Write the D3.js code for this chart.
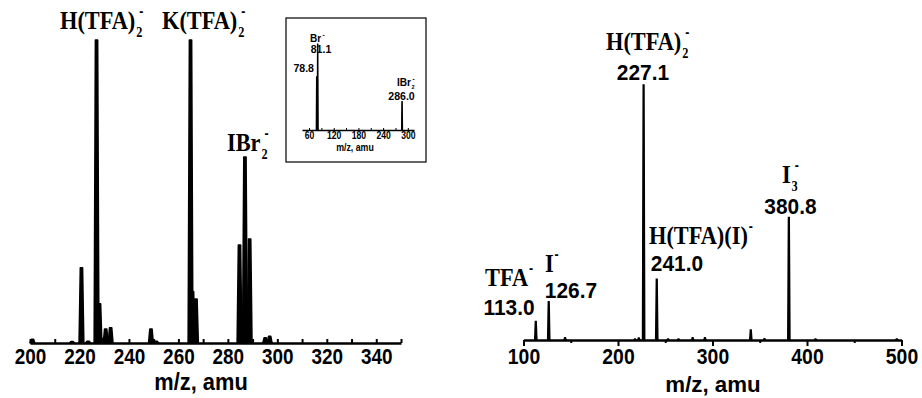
<!DOCTYPE html>
<html>
<head>
<meta charset="utf-8">
<script src="https://cdn.jsdelivr.net/npm/d3@7"></script>
<style>
  html, body { margin: 0; padding: 0; background: #fff; }
  svg { display: block; }
  .ax text { font-family: "Liberation Sans", Arial, sans-serif; font-weight: bold; fill: #000; }
  .ax path, .ax line { stroke: #000; }
</style>
</head>
<body>
<svg id="chart" width="922" height="398"></svg>
<script>
// ---- Left spectrum (m/z 200–350) ----
const leftMz        = [201.0, 217.0, 220.8, 223.5, 226.9, 228.1, 229.5, 230.6, 232.6, 248.9, 251.0, 264.9, 265.7, 267.1, 284.7, 286.9, 288.8, 295.1, 296.9];
const leftIntensity = [1.2,   0.5,   24.8,  0.6,   100,   12.9,  1.5,   4.6,   5.0,   4.6,   0.6,   100,   17.0,  14.5,  32.3,  61.4,  34.3,  1.7,   2.2];
const leftTicks = [200, 220, 240, 260, 280, 300, 320, 340];
const leftMinorTicks = [200, 210, 220, 230, 240, 250, 260, 270, 280, 290, 300, 310, 320, 330, 340, 350];

// ---- Inset spectrum (m/z 60–300) ----
const insetMz        = [78.8, 81.1, 286.0];
const insetIntensity = [62,   100,  33];
const insetTicks = [60, 120, 180, 240, 300];
const insetMinorTicks = [90, 150, 210, 270];

// ---- Right spectrum (m/z 100–500) ----
const rightMz        = [113.0, 126.7, 144.0, 218.0, 222.0, 227.1, 241.0, 253.0, 264.0, 279.0, 292.0, 340.5, 355.0, 380.8, 409.0, 495.0];
const rightIntensity = [7.2,   15.0,  0.9,   0.4,   0.8,   100,   23.8,  0.4,   0.4,   0.9,   0.9,   3.9,   0.5,   48.0,  0.4,   0.4];
const rightTicks = [100, 200, 300, 400, 500];
const rightMinorTicks = [150, 250, 350, 450];

const svg = d3.select("#chart");
const SERIF = '"Liberation Serif", "Times New Roman", serif';
const SANS = '"Liberation Sans", Arial, sans-serif';

// Ion label: main text with optional subscript and superscript charge
function ion(g, x, y, main, sub, sup, size, sx) {
  const grp = g.append("g").attr("transform", `translate(${x},${y}) scale(${sx},1)`);
  const t = grp.append("text").attr("x", 0).attr("y", 0)
    .attr("font-family", SERIF).attr("font-weight", "bold")
    .attr("font-size", size).text(main);
  const w = t.node().getComputedTextLength();
  const small = size * 0.55;
  if (sub) grp.append("text").attr("x", w + 1).attr("y", size * 0.3)
    .attr("font-family", SERIF).attr("font-weight", "bold").attr("font-size", small).text(sub);
  if (sup) grp.append("text").attr("x", w + 1 + (sub ? small * 0.25 : 0)).attr("y", -size * 0.5)
    .attr("font-family", SANS).attr("font-weight", "bold").attr("font-size", small).text(sup);
  return grp;
}

// Condensed bold sans text
function sansText(g, x, y, txt, size, sx, anchor) {
  g.append("g").attr("transform", `translate(${x},${y}) scale(${sx},1)`)
    .append("text").attr("font-family", SANS).attr("font-weight", "bold")
    .attr("font-size", size).attr("text-anchor", anchor || "middle").text(txt);
}

// Filled peak profile (narrow trapezoid) at each m/z
function peakPath(x, y, mz, inten, hwBase, hwTop) {
  const y0 = y(0), yt = y(inten);
  return `M${x(mz - hwBase)},${y0}L${x(mz - hwTop)},${yt}L${x(mz + hwTop)},${yt}L${x(mz + hwBase)},${y0}Z`;
}

function styleTicks(ax, size, sx) {
  ax.selectAll(".tick text").attr("font-size", size).attr("transform", `scale(${sx},1)`);
}

// ================= Left panel =================
{
  const x = d3.scaleLinear().domain([200, 350]).range([30, 401]);
  const y = d3.scaleLinear().domain([0, 100]).range([343, 40]);
  const g = svg.append("g");

  g.append("g").selectAll("path").data(leftMz.map((m, i) => [m, leftIntensity[i]]))
    .join("path")
    .attr("d", d => peakPath(x, y, d[0], d[1], 0.95, 0.45))
    .attr("fill", "#000").attr("stroke", "#000").attr("stroke-width", 1.6)
    .attr("stroke-linejoin", "round");

  const ax = g.append("g").attr("class", "ax").attr("transform", `translate(0,${y(0)})`)
    .call(d3.axisBottom(x).tickValues(leftMinorTicks).tickSizeInner(-4).tickSizeOuter(0).tickPadding(5)
      .tickFormat(d => leftTicks.includes(d) ? d3.format("d")(d) : ""));
  ax.select(".domain").attr("stroke-width", 2.5);
  ax.selectAll(".tick line").attr("stroke-width", 2);
  styleTicks(ax, 22, 0.86);

  sansText(g, 201, 390, "m/z, amu", 23, 0.95);

  ion(g, 60, 29, "H(TFA)", "2", "-", 26, 0.86);
  ion(g, 162, 29, "K(TFA)", "2", "-", 26, 0.86);
  ion(g, 227, 151, "IBr", "2", "-", 26, 0.86);

  // ---- Inset ----
  const ins = g.append("g");
  ins.append("rect").attr("x", 286).attr("y", 18).attr("width", 140).attr("height", 144)
    .attr("fill", "#fff").attr("stroke", "#000").attr("stroke-width", 1.2);
  const xi = d3.scaleLinear().domain([43, 315]).range([302, 414]);
  const yi = d3.scaleLinear().domain([0, 100]).range([130, 44]);
  ins.append("g").selectAll("path").data(insetMz.map((m, i) => [m, insetIntensity[i]]))
    .join("path")
    .attr("d", d => peakPath(xi, yi, d[0], d[1], 1.3, 0.5))
    .attr("fill", "#000").attr("stroke", "#000").attr("stroke-width", 1.1);
  const axi = ins.append("g").attr("class", "ax").attr("transform", `translate(0,${yi(0)})`)
    .call(d3.axisBottom(xi).tickValues(insetTicks.concat(insetMinorTicks)).tickSizeInner(-2).tickSizeOuter(0).tickPadding(2)
      .tickFormat(d => insetTicks.includes(d) ? d3.format("d")(d) : ""));
  axi.select(".domain").attr("stroke-width", 1.3);
  axi.selectAll(".tick line").attr("stroke-width", 1);
  styleTicks(axi, 10.5, 0.82);
  sansText(ins, 355, 151, "m/z, amu", 10, 0.88);

  const insLbl = (gg, xx, yy, main, sub, sup) => {
    const grp = gg.append("g").attr("transform", `translate(${xx},${yy}) scale(0.92,1)`);
    const t = grp.append("text").attr("font-family", SANS).attr("font-weight", "bold").attr("font-size", 11).text(main);
    const w = t.node().getComputedTextLength();
    if (sub) grp.append("text").attr("x", w + 0.5).attr("y", 3).attr("font-family", SANS).attr("font-weight", "bold").attr("font-size", 6).text(sub);
    if (sup) grp.append("text").attr("x", w + 1.5).attr("y", -5).attr("font-family", SANS).attr("font-weight", "bold").attr("font-size", 7).text(sup);
  };
  insLbl(ins, 310, 41.5, "Br", null, "-");
  sansText(ins, 321, 53, "81.1", 11.5, 0.92);
  sansText(ins, 314, 72, "78.8", 11.5, 0.92, "end");
  insLbl(ins, 397, 86, "IBr", "2", "-");
  sansText(ins, 401.5, 99.5, "286.0", 11.5, 0.92);
}

// ================= Right panel =================
{
  const x = d3.scaleLinear().domain([100, 500]).range([523.5, 901.5]);
  const y = d3.scaleLinear().domain([0, 100]).range([340, 85]);
  const g = svg.append("g");

  g.append("g").selectAll("path").data(rightMz.map((m, i) => [m, rightIntensity[i]]))
    .join("path")
    .attr("d", d => peakPath(x, y, d[0], d[1], 1.1, 0.35))
    .attr("fill", "#000").attr("stroke", "#000").attr("stroke-width", 1.6);

  const ax = g.append("g").attr("class", "ax").attr("transform", `translate(0,${y(0)})`)
    .call(d3.axisBottom(x).tickValues(rightTicks).tickSizeInner(6).tickSizeOuter(0).tickPadding(2).tickFormat(d3.format("d")));
  ax.select(".domain").attr("stroke-width", 2.5);
  ax.selectAll(".tick line").attr("stroke-width", 2);
  styleTicks(ax, 22, 0.88);
  const axm = g.append("g").attr("class", "ax").attr("transform", `translate(0,${y(0)})`)
    .call(d3.axisBottom(x).tickValues(rightMinorTicks).tickSizeInner(3).tickSizeOuter(0).tickFormat(""));
  axm.select(".domain").remove();
  axm.selectAll(".tick line").attr("stroke-width", 2);

  sansText(g, 713, 392, "m/z, amu", 23, 0.97);

  ion(g, 606, 50, "H(TFA)", "2", "-", 26, 0.86);
  sansText(g, 643, 80, "227.1", 22, 0.95);
  ion(g, 649, 244, "H(TFA)(I)", null, "-", 26, 0.86);
  sansText(g, 677, 271, "241.0", 22, 0.95);
  ion(g, 782, 183, "I", "3", "-", 26, 0.86);
  sansText(g, 790.5, 214, "380.8", 22, 0.95);
  ion(g, 485, 286, "TFA", null, "-", 26, 0.86);
  sansText(g, 509, 315, "113.0", 22, 0.95);
  ion(g, 545, 272, "I", null, "-", 26, 0.86);
  sansText(g, 571, 298, "126.7", 22, 0.95);
}
</script>
</body>
</html>
